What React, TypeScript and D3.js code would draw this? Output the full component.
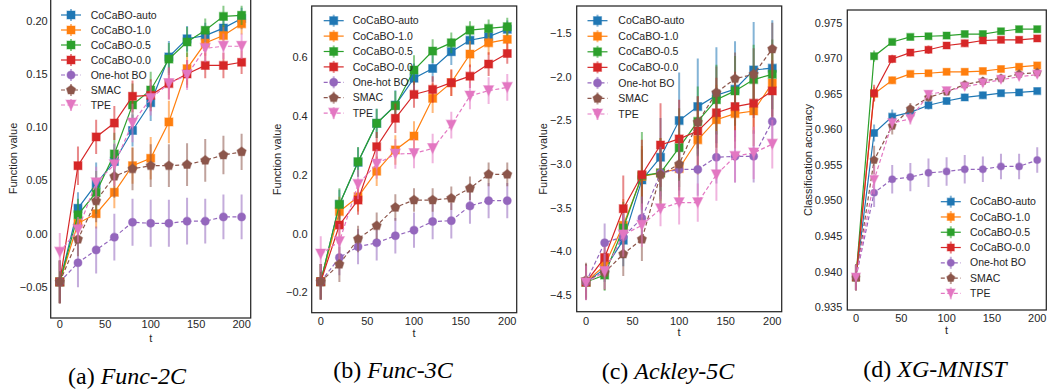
import React from 'react';
import * as d3 from 'd3';

// iterations
const steps = [0, 20, 40, 60, 80, 100, 120, 140, 160, 180, 200];

const names = ['CoCaBO-auto', 'CoCaBO-1.0', 'CoCaBO-0.5', 'CoCaBO-0.0', 'One-hot BO', 'SMAC', 'TPE'];
const colors = ['#1f77b4', '#ff7f0e', '#2ca02c', '#d62728', '#9467bd', '#8c564b', '#e377c2'];
const markers = ['square', 'square', 'square', 'square', 'circle', 'pentagon', 'triangle'];
const dashed = [false, false, false, false, true, true, true];
const xTicks = [0, 50, 100, 150, 200];

// (a) Func-2C
const func2cAuto = [-0.045, 0.024, 0.047, 0.068, 0.097, 0.123, 0.166, 0.183, 0.186, 0.193, 0.202];
const func2cAutoErr = [0.02, 0.015, 0.02, 0.016, 0.015, 0.017, 0.015, 0.012, 0.012, 0.011, 0.01];
const func2cOne = [-0.045, 0.010, 0.019, 0.039, 0.064, 0.071, 0.105, 0.155, 0.179, 0.186, 0.197];
const func2cOneErr = [0.02, 0.01, 0.014, 0.015, 0.017, 0.02, 0.02, 0.015, 0.012, 0.01, 0.01];
const func2cHalf = [-0.045, 0.018, 0.039, 0.075, 0.121, 0.135, 0.164, 0.180, 0.191, 0.204, 0.205];
const func2cHalfErr = [0.02, 0.015, 0.02, 0.02, 0.02, 0.017, 0.015, 0.014, 0.011, 0.01, 0.009];
const func2cZero = [-0.045, 0.064, 0.091, 0.104, 0.129, 0.130, 0.141, 0.150, 0.158, 0.158, 0.161];
const func2cZeroErr = [0.02, 0.018, 0.016, 0.016, 0.015, 0.015, 0.015, 0.013, 0.012, 0.012, 0.011];
const func2cOnehot = [-0.045, -0.027, -0.015, -0.003, 0.011, 0.010, 0.010, 0.012, 0.012, 0.016, 0.016];
const func2cOnehotErr = [0.02, 0.023, 0.022, 0.022, 0.022, 0.022, 0.022, 0.022, 0.021, 0.021, 0.021];
const func2cSmac = [-0.045, -0.005, 0.031, 0.054, 0.061, 0.064, 0.064, 0.065, 0.069, 0.074, 0.077];
const func2cSmacErr = [0.02, 0.016, 0.02, 0.02, 0.02, 0.02, 0.02, 0.02, 0.02, 0.018, 0.017];
const func2cTpe = [-0.017, 0.004, 0.048, 0.065, 0.104, 0.127, 0.141, 0.149, 0.174, 0.176, 0.176];
const func2cTpeErr = [0.018, 0.012, 0.015, 0.02, 0.018, 0.016, 0.015, 0.014, 0.013, 0.012, 0.012];
const func2cTicks = [-0.05, 0, 0.05, 0.1, 0.15, 0.2];

// (b) Func-3C
const func3cAuto = [-0.163, 0.099, 0.242, 0.374, 0.436, 0.527, 0.560, 0.617, 0.656, 0.668, 0.693];
const func3cAutoErr = [0.06, 0.05, 0.05, 0.05, 0.05, 0.05, 0.045, 0.045, 0.04, 0.035, 0.03];
const func3cOne = [-0.163, 0.075, 0.125, 0.212, 0.284, 0.331, 0.459, 0.512, 0.609, 0.647, 0.659];
const func3cOneErr = [0.06, 0.05, 0.05, 0.05, 0.05, 0.05, 0.05, 0.045, 0.045, 0.04, 0.04];
const func3cHalf = [-0.163, 0.099, 0.244, 0.374, 0.434, 0.555, 0.619, 0.647, 0.690, 0.696, 0.702];
const func3cHalfErr = [0.06, 0.055, 0.05, 0.05, 0.05, 0.05, 0.04, 0.035, 0.03, 0.03, 0.03];
const func3cZero = [-0.163, 0.029, 0.114, 0.295, 0.391, 0.472, 0.489, 0.512, 0.534, 0.575, 0.611];
const func3cZeroErr = [0.06, 0.05, 0.05, 0.05, 0.05, 0.045, 0.045, 0.045, 0.04, 0.04, 0.035];
const func3cOnehot = [-0.163, -0.081, -0.044, -0.031, -0.007, 0.012, 0.041, 0.044, 0.094, 0.112, 0.112];
const func3cOnehotErr = [0.06, 0.06, 0.06, 0.06, 0.06, 0.06, 0.06, 0.06, 0.06, 0.06, 0.06];
const func3cSmac = [-0.163, -0.104, -0.018, 0.027, 0.089, 0.114, 0.114, 0.120, 0.154, 0.201, 0.201];
const func3cSmacErr = [0.06, 0.06, 0.045, 0.045, 0.045, 0.04, 0.04, 0.04, 0.04, 0.04, 0.04];
const func3cTpe = [-0.069, -0.027, 0.167, 0.236, 0.270, 0.272, 0.289, 0.368, 0.467, 0.485, 0.496];
const func3cTpeErr = [0.06, 0.06, 0.05, 0.05, 0.05, 0.05, 0.05, 0.045, 0.045, 0.045, 0.045];
const func3cTicks = [-0.2, 0, 0.2, 0.4, 0.6];

// (c) Ackley-5C
const ackleyAuto = [-4.35, -4.20, -3.87, -3.18, -2.92, -2.50, -2.34, -2.21, -2.14, -1.92, -1.90];
const ackleyAutoErr = [0.2, 0.15, 0.3, 0.35, 0.45, 0.55, 0.55, 0.55, 0.55, 0.55, 0.55];
const ackleyOne = [-4.35, -4.16, -3.70, -3.14, -3.10, -3.05, -2.72, -2.49, -2.42, -2.39, -2.07];
const ackleyOneErr = [0.2, 0.15, 0.3, 0.35, 0.4, 0.4, 0.4, 0.4, 0.4, 0.4, 0.4];
const ackleyHalf = [-4.35, -4.27, -3.73, -3.13, -3.10, -2.81, -2.51, -2.26, -2.16, -2.03, -1.97];
const ackleyHalfErr = [0.2, 0.18, 0.3, 0.5, 0.4, 0.45, 0.4, 0.4, 0.4, 0.4, 0.4];
const ackleyZero = [-4.35, -4.07, -3.51, -3.12, -2.78, -2.71, -2.62, -2.41, -2.34, -2.30, -2.16];
const ackleyZeroErr = [0.2, 0.15, 0.38, 0.4, 0.48, 0.45, 0.4, 0.4, 0.4, 0.35, 0.35];
const ackleyOnehot = [-4.35, -3.90, -3.83, -3.62, -3.10, -3.06, -3.06, -2.92, -2.91, -2.91, -2.51];
const ackleyOnehotErr = [0.2, 0.22, 0.25, 0.25, 0.3, 0.3, 0.3, 0.3, 0.3, 0.3, 0.3];
const ackleySmac = [-4.33, -4.24, -4.03, -3.86, -3.12, -3.00, -2.52, -2.18, -2.02, -1.97, -1.68];
const ackleySmacErr = [0.2, 0.2, 0.25, 0.25, 0.3, 0.3, 0.3, 0.3, 0.3, 0.3, 0.3];
const ackleyTpe = [-4.36, -4.23, -3.81, -3.70, -3.51, -3.44, -3.44, -3.12, -2.91, -2.87, -2.77];
const ackleyTpeErr = [0.2, 0.2, 0.25, 0.25, 0.2, 0.25, 0.22, 0.3, 0.3, 0.3, 0.28];
const ackleyTicks = [-4.5, -4.0, -3.5, -3.0, -2.5, -2.0, -1.5];

// (d) XG-MNIST
const mnistAuto = [0.9392, 0.9595, 0.9618, 0.9624, 0.9634, 0.9640, 0.9645, 0.9648, 0.9651, 0.9652, 0.9654];
const mnistAutoErr = [0.0018, 0.0012, 0.001, 0.0006, 0.0006, 0.0005, 0.0005, 0.0005, 0.0004, 0.0004, 0.0004];
const mnistOne = [0.9392, 0.9650, 0.9669, 0.9678, 0.9679, 0.9681, 0.9681, 0.9682, 0.9685, 0.9688, 0.9690];
const mnistOneErr = [0.0018, 0.001, 0.0005, 0.0004, 0.0004, 0.0003, 0.0003, 0.0003, 0.0003, 0.0003, 0.0003];
const mnistHalf = [0.9392, 0.9703, 0.9723, 0.9730, 0.9731, 0.9732, 0.9734, 0.9734, 0.9738, 0.9741, 0.9741];
const mnistHalfErr = [0.0018, 0.0008, 0.0004, 0.0003, 0.0003, 0.0003, 0.0003, 0.0003, 0.0003, 0.0003, 0.0003];
const mnistZero = [0.9392, 0.9651, 0.9699, 0.9708, 0.9712, 0.9718, 0.9721, 0.9725, 0.9726, 0.9726, 0.9728];
const mnistZeroErr = [0.0018, 0.0012, 0.0006, 0.0005, 0.0006, 0.0005, 0.0005, 0.0005, 0.0004, 0.0004, 0.0004];
const mnistOnehot = [0.9392, 0.9511, 0.9530, 0.9533, 0.9539, 0.9541, 0.9544, 0.9544, 0.9548, 0.9548, 0.9557];
const mnistOnehotErr = [0.0018, 0.002, 0.002, 0.002, 0.002, 0.002, 0.002, 0.0018, 0.0018, 0.0018, 0.0018];
const mnistSmac = [0.9392, 0.9557, 0.9605, 0.9629, 0.9645, 0.9653, 0.9663, 0.9668, 0.9672, 0.9678, 0.9680];
const mnistSmacErr = [0.0018, 0.002, 0.0012, 0.0008, 0.0006, 0.0005, 0.0005, 0.0005, 0.0004, 0.0004, 0.0004];
const mnistTpe = [0.9392, 0.9529, 0.9609, 0.9615, 0.9649, 0.9654, 0.9660, 0.9665, 0.9670, 0.9674, 0.9677];
const mnistTpeErr = [0.0018, 0.002, 0.0008, 0.0008, 0.0006, 0.0005, 0.0005, 0.0005, 0.0005, 0.0005, 0.0005];
const mnistTicks = [0.935, 0.94, 0.945, 0.95, 0.955, 0.96, 0.965, 0.97, 0.975];

const panels = [
  {
    id: 'a', means: [func2cAuto, func2cOne, func2cHalf, func2cZero, func2cOnehot, func2cSmac, func2cTpe],
    errs: [func2cAutoErr, func2cOneErr, func2cHalfErr, func2cZeroErr, func2cOnehotErr, func2cSmacErr, func2cTpeErr],
    yTicks: func2cTicks, fmt: '.2f', yDomain: [-0.0788, 0.2203], yLabel: 'Function value', caption: 'Func-2C',
    box: { l: 50.7, r: 250.7, t: -1, b: 318 }, xRange: [50.7, 250.7], ms: 8,
    yLabelX: 13, xTickY: 328, tY: 342, capX: 127, capY: 383.5,
    legend: { mx: 71, tx: 90.7, y0: 15, dy: 15 }, tickGap: 3,
  },
  {
    id: 'b', means: [func3cAuto, func3cOne, func3cHalf, func3cZero, func3cOnehot, func3cSmac, func3cTpe],
    errs: [func3cAutoErr, func3cOneErr, func3cHalfErr, func3cZeroErr, func3cOnehotErr, func3cSmacErr, func3cTpeErr],
    yTicks: func3cTicks, fmt: '.1f', yDomain: [-0.268, 0.772], yLabel: 'Function value', caption: 'Func-3C',
    box: { l: 311.7, r: 516.7, t: 6, b: 312.7 }, xRange: [311.4, 516.6], ms: 8,
    yLabelX: 277, xTickY: 324.7, tY: 337, capX: 393, capY: 378,
    legend: { mx: 333.7, tx: 352.7, y0: 20.7, dy: 15.4 }, tickGap: 4,
  },
  {
    id: 'c', means: [ackleyAuto, ackleyOne, ackleyHalf, ackleyZero, ackleyOnehot, ackleySmac, ackleyTpe],
    errs: [ackleyAutoErr, ackleyOneErr, ackleyHalfErr, ackleyZeroErr, ackleyOnehotErr, ackleySmacErr, ackleyTpeErr],
    yTicks: ackleyTicks, fmt: '.1f', yDomain: [-4.69, -1.187], yLabel: 'Function value', caption: 'Ackley-5C',
    box: { l: 576.7, r: 781.7, t: 6, b: 311.7 }, xRange: [576.7, 781.6], ms: 8,
    yLabelX: 543, xTickY: 324.7, tY: 336, capX: 668, capY: 379,
    legend: { mx: 597.5, tx: 618.3, y0: 20.7, dy: 15.55 }, tickGap: 5,
  },
  {
    id: 'd', means: [mnistAuto, mnistOne, mnistHalf, mnistZero, mnistOnehot, mnistSmac, mnistTpe],
    errs: [mnistAutoErr, mnistOneErr, mnistHalfErr, mnistZeroErr, mnistOnehotErr, mnistSmacErr, mnistTpeErr],
    yTicks: mnistTicks, fmt: '.3f', yDomain: [0.93462, 0.97679], yLabel: 'Classification accuracy', caption: 'XG-MNIST',
    box: { l: 847.3, r: 1046.3, t: 10, b: 310 }, xRange: [846.9, 1046.3], ms: 7,
    yLabelX: 808, xTickY: 322, tY: 334, capX: 935, capY: 376.5,
    legend: { mx: 950.8, tx: 970, y0: 201.7, dy: 15.27 }, tickGap: 5,
  },
];

const INK = '#262626';
const SANS = '"Liberation Sans", Arial, Helvetica, sans-serif';

function markerPath(kind: string, ms: number) {
  if (kind === 'square') return d3.symbol(d3.symbolSquare, ms * ms)() as string;
  if (kind === 'circle') return d3.symbol(d3.symbolCircle, Math.PI * (ms / 2) * (ms / 2))() as string;
  if (kind === 'triangle') {
    const h = ms * 0.62;
    return `M${-h},${-h}L${h},${-h}L0,${h}Z`;
  }
  // pentagon
  const r = ms * 0.6;
  const pts = d3.range(5).map(k => {
    const a = -Math.PI / 2 + (k * 2 * Math.PI) / 5;
    return [r * Math.cos(a), r * Math.sin(a)];
  });
  return 'M' + pts.map(p => p.join(',')).join('L') + 'Z';
}

function Panel({ p }: { p: any }) {
  const x = d3.scaleLinear().domain([-10, 210]).range(p.xRange);
  const y = d3.scaleLinear().domain(p.yDomain).range([p.box.b, p.box.t]);
  const fmt = d3.format(p.fmt);
  const clipId = 'clip-' + p.id;
  const yMid = (p.box.t + p.box.b) / 2;

  return (
    <g>
      <defs>
        <clipPath id={clipId}>
          <rect x={p.box.l} y={p.box.t} width={p.box.r - p.box.l} height={p.box.b - p.box.t} />
        </clipPath>
      </defs>
      <g clipPath={`url(#${clipId})`}>
        {names.map((name, si) => {
          const mean: number[] = p.means[si];
          const err: number[] = p.errs[si];
          const col = colors[si];
          const lineGen = d3.line<number>().x((_, i) => x(steps[i])).y(v => y(v));
          const mp = markerPath(markers[si], p.ms);
          return (
            <g key={name}>
              {mean.map((v, i) => (
                <line key={'e' + i} x1={x(steps[i])} x2={x(steps[i])} y1={y(v - err[i])} y2={y(v + err[i])}
                  stroke={col} strokeWidth={2} strokeOpacity={0.55} />
              ))}
              <path d={lineGen(mean) as string} fill="none" stroke={col} strokeWidth={1.2}
                strokeDasharray={dashed[si] ? '4,2.5' : undefined} />
              {mean.map((v, i) => (
                <path key={'m' + i} d={mp} transform={`translate(${x(steps[i])},${y(v)})`}
                  fill={col} stroke={col} strokeOpacity={0.45} strokeWidth={1.2} />
              ))}
            </g>
          );
        })}
      </g>
      <rect x={p.box.l} y={p.box.t} width={p.box.r - p.box.l} height={p.box.b - p.box.t}
        fill="none" stroke={INK} strokeWidth={1.25} />
      {p.yTicks.map((t: number) => (
        <text key={'y' + t} x={p.box.l - p.tickGap} y={y(t)} dy="0.35em" textAnchor="end"
          fontFamily={SANS} fontSize={11} fill={INK}>{fmt(t).replace('-', '\u2212')}</text>
      ))}
      {xTicks.map(t => (
        <text key={'x' + t} x={x(t)} y={p.xTickY} textAnchor="middle"
          fontFamily={SANS} fontSize={11} fill={INK}>{t}</text>
      ))}
      <text x={x(100)} y={p.tY} textAnchor="middle" fontFamily={SANS} fontSize={11} fill={INK}>t</text>
      <text x={p.yLabelX} y={yMid} transform={`rotate(-90,${p.yLabelX},${yMid})`} textAnchor="middle"
        dominantBaseline="central" fontFamily={SANS} fontSize={11} fill={INK}>{p.yLabel}</text>
      {names.map((name, si) => {
        const ly = p.legend.y0 + si * p.legend.dy;
        const col = colors[si];
        return (
          <g key={'l' + si}>
            <line x1={p.legend.mx - 10} x2={p.legend.mx + 10} y1={ly} y2={ly} stroke={col} strokeWidth={1.2}
              strokeDasharray={dashed[si] ? '4,2.5' : undefined} />
            <line x1={p.legend.mx} x2={p.legend.mx} y1={ly - 6} y2={ly + 6} stroke={col} strokeWidth={2} strokeOpacity={0.55} />
            <path d={markerPath(markers[si], p.ms)} transform={`translate(${p.legend.mx},${ly})`}
              fill={col} stroke={col} strokeOpacity={0.45} strokeWidth={1.2} />
            <text x={p.legend.tx} y={ly} dy="0.35em" fontFamily={SANS} fontSize={10.5} fill={INK}>{name}</text>
          </g>
        );
      })}
      <text x={p.capX} y={p.capY} textAnchor="middle" fontFamily='"Liberation Serif", "Times New Roman", serif'
        fontSize={24} fill="#000">
        {`(${p.id}) `}<tspan fontStyle="italic">{p.caption}</tspan>
      </text>
    </g>
  );
}

export default function App() {
  return (
    <svg width={1047} height={389} style={{ position: 'absolute', left: 0, top: 0, background: '#fff' }}>
      {panels.map(p => <Panel key={p.id} p={p} />)}
    </svg>
  );
}
